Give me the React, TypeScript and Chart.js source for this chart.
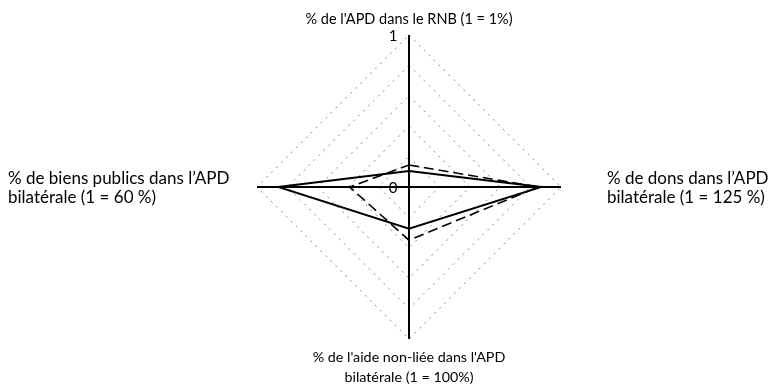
import React, { useEffect, useRef } from "react";
import { Chart, registerables } from "chart.js";

Chart.register(...registerables);

const axisLabels: string[][] = [
  ["% de l'APD dans le RNB (1 = 1%)"],
  ["% de dons dans l\u2019APD", "bilatérale (1 = 125 %)"],
  ["% de l'aide non-liée dans l'APD", "bilatérale (1 = 100%)"],
  ["% de biens publics dans l\u2019APD", "bilatérale (1 = 60 %)"],
];
const seriesSolid: number[] = [0.105, 0.87, 0.275, 0.86];
const seriesDashed: number[] = [0.145, 0.85, 0.35, 0.39];
const tickValues: number[] = [0, 1];
const tickLabels: string[] = ["0", "1"];

const FONT = "Lato, 'Open Sans', sans-serif";

const labelPlugin = {
  id: "customLabels",
  afterDraw(chart: any) {
    const scale = chart.scales.r;
    const ctx = chart.ctx as CanvasRenderingContext2D;
    const R = scale.drawingArea;
    const cx = scale.xCenter;
    const cy = scale.yCenter;
    ctx.save();
    ctx.fillStyle = "#000";
    // tick labels
    ctx.font = `15px ${FONT}`;
    ctx.textAlign = "center";
    ctx.textBaseline = "middle";
    tickValues.forEach((v, i) => {
      const d = scale.getDistanceFromCenterForValue(v);
      ctx.fillText(tickLabels[i], cx - 16, cy - d + 1);
    });
    // top
    ctx.font = `14.5px ${FONT}`;
    ctx.textAlign = "center";
    ctx.textBaseline = "alphabetic";
    ctx.fillText(axisLabels[0][0], cx, cy - R - 11);
    // bottom
    ctx.font = `14.3px ${FONT}`;
    axisLabels[2].forEach((t, j) => {
      ctx.fillText(t, cx, cy + R + 23 + j * 20);
    });
    // right
    ctx.font = `17px ${FONT}`;
    ctx.textAlign = "left";
    axisLabels[1].forEach((t, j) => {
      ctx.fillText(t, cx + R + 46, cy - 3 + j * 19);
    });
    // left
    axisLabels[3].forEach((t, j) => {
      ctx.fillText(t, 8, cy - 3 + j * 19);
    });
    ctx.restore();
  },
};

export default function App() {
  const ref = useRef<HTMLCanvasElement | null>(null);
  useEffect(() => {
    if (!ref.current) return;
    const chart = new Chart(ref.current, {
      type: "radar",
      data: {
        labels: axisLabels.map((l) => l.join(" ")),
        datasets: [
          {
            data: seriesSolid,
            borderColor: "#000",
            borderWidth: 2,
            fill: false,
            pointRadius: 0,
            pointHoverRadius: 0,
          },
          {
            data: seriesDashed,
            borderColor: "#000",
            borderWidth: 1.6,
            borderDash: [10, 5],
            fill: false,
            pointRadius: 0,
            pointHoverRadius: 0,
          },
        ],
      },
      options: {
        animation: false,
        responsive: true,
        maintainAspectRatio: false,
        layout: { padding: { left: 257, right: 214, top: 35, bottom: 48 } },
        plugins: { legend: { display: false }, tooltip: { enabled: false } },
        scales: {
          r: {
            min: 0,
            max: 1,
            ticks: { display: false, stepSize: 0.2 },
            pointLabels: { display: false },
            angleLines: { display: true, color: "#000", lineWidth: 2 },
            grid: {
              circular: false,
              color: "#888",
              lineWidth: 1,
            },
            border: { dash: [2, 5] },
          },
        },
      },
      plugins: [labelPlugin],
    });
    return () => chart.destroy();
  }, []);
  return (
    <div style={{ position: "absolute", left: 0, top: 0, width: 775, height: 387 }}>
      <canvas ref={ref} />
    </div>
  );
}
